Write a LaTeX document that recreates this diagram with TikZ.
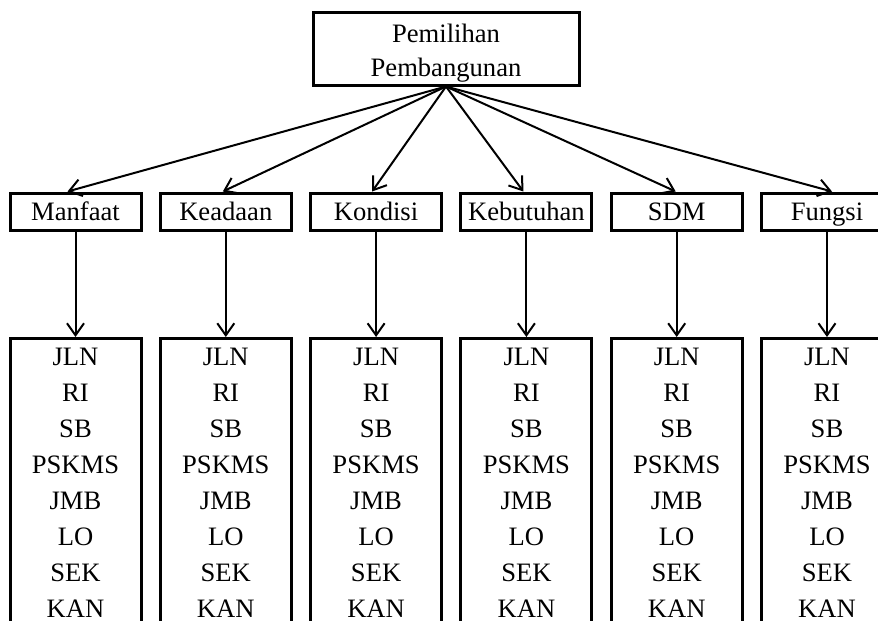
\documentclass[tikz,border=0pt]{standalone}
\usepackage{fontspec}
\setmainfont{Liberation Serif}
\usepackage{tikz}
\usetikzlibrary{arrows.meta}

\begin{document}
\begin{tikzpicture}[x=0.5pt,y=-0.5pt,
  font=\fontsize{13.3}{18}\selectfont,
  box/.style={draw,line width=1.5pt,minimum width=65.5pt,inner sep=0pt},
  arr/.style={line width=1pt,-{Straight Barb[length=6pt,width=8.5pt]}}]
\useasboundingbox (0,0) rectangle (878,621);
\clip (0,0) rectangle (878,621);
\node[box,minimum width=133pt,minimum height=36.5pt,
  label={[align=center,font=\fontsize{13.3}{17}\selectfont,yshift=-2.5pt]center:Pemilihan\\Pembangunan}] (top) at (446,48.5) {};
\foreach \x/\lab/\nm/\dx in {75.5/Manfaat/manfaat/-4,225.8/Keadaan/keadaan/-1.5,
    376.1/Kondisi/kondisi/-2,526.4/Kebutuhan/kebutuhan/-1.5,
    676.7/SDM/sdm/-0.5,827/Fungsi/fungsi/2.5}
{
  \node[box,minimum height=18.5pt,text height=9.5pt,text depth=0.7pt] (\nm) at (\x,211.5) {\lab};
  \node[box,anchor=north,align=center,inner ysep=5pt] (\nm-list) at (\x,337)
    {JLN\\RI\\SB\\PSKMS\\JMB\\LO\\SEK\\KAN};
  \draw[arr] (top.south) -- ([xshift=\dx pt]\nm.north);
  \draw[arr] (\nm) -- (\nm-list);
}
\end{tikzpicture}
\end{document}
